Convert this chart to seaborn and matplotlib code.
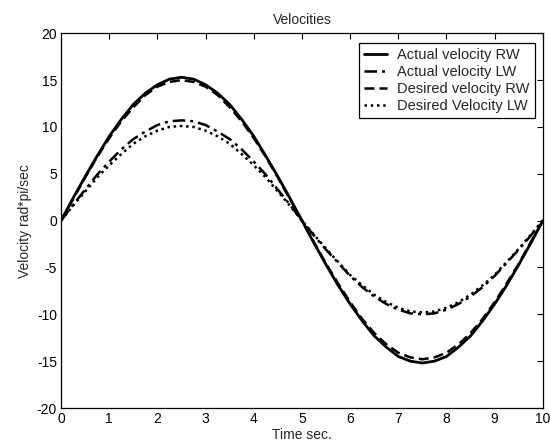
import numpy as np
import pandas as pd
import matplotlib
matplotlib.use("Agg")
import matplotlib.pyplot as plt
import seaborn as sns

time_sec = [i * 0.25 for i in range(41)]

actual_rw = [0, 2.4, 4.7, 6.9, 9.0, 10.8, 12.4, 13.6, 14.5, 15.1, 15.3,
             15.1, 14.5, 13.6, 12.4, 10.8, 9.0, 6.9, 4.7, 2.4, 0,
             -2.4, -4.7, -6.9, -8.9, -10.7, -12.3, -13.5, -14.5, -15.0, -15.2,
             -15.0, -14.5, -13.5, -12.3, -10.7, -8.9, -6.9, -4.7, -2.4, 0]
actual_lw = [0, 1.7, 3.3, 4.9, 6.3, 7.6, 8.7, 9.5, 10.2, 10.6, 10.7,
             10.6, 10.2, 9.5, 8.7, 7.6, 6.3, 4.9, 3.3, 1.7, 0,
             -1.6, -3.1, -4.5, -5.9, -7.1, -8.1, -8.9, -9.5, -9.9, -10.0,
             -9.9, -9.5, -8.9, -8.1, -7.1, -5.9, -4.5, -3.1, -1.6, 0]
desired_rw = [0, 2.3, 4.6, 6.8, 8.8, 10.6, 12.1, 13.4, 14.3, 14.8, 15.0,
              14.8, 14.3, 13.4, 12.1, 10.6, 8.8, 6.8, 4.6, 2.3, 0,
              -2.3, -4.6, -6.7, -8.7, -10.5, -12.0, -13.2, -14.1, -14.6, -14.8,
              -14.6, -14.1, -13.2, -12.0, -10.5, -8.7, -6.7, -4.6, -2.3, 0]
desired_lw = [0, 1.6, 3.1, 4.6, 5.9, 7.1, 8.2, 9.0, 9.6, 10.0, 10.1,
              10.0, 9.6, 9.0, 8.2, 7.1, 5.9, 4.6, 3.1, 1.6, 0,
              -1.5, -3.0, -4.4, -5.8, -6.9, -7.9, -8.7, -9.3, -9.7, -9.8,
              -9.7, -9.3, -8.7, -7.9, -6.9, -5.8, -4.4, -3.0, -1.5, 0]

series_names = ["Actual velocity RW", "Actual velocity LW",
                "Desired velocity RW", "Desired Velocity LW"]
x_ticks = list(range(0, 11))
y_ticks = list(range(-20, 21, 5))

sns.set_style("white")
plt.rcParams["font.family"] = ["Liberation Sans", "DejaVu Sans"]
plt.rcParams["axes.unicode_minus"] = False

fig = plt.figure(figsize=(5.5, 4.43), dpi=100)
ax = fig.add_axes([0.111, 0.079, 0.876, 0.846])

styles = [
    dict(linestyle="-", linewidth=2.0),
    dict(linestyle=(0, (5, 2, 1.2, 2)), linewidth=1.8),
    dict(linestyle=(0, (4, 2)), linewidth=1.8),
    dict(linestyle=(0, (1, 1.5)), linewidth=1.8),
]
for name, vals, st in zip(series_names,
                          [actual_rw, actual_lw, desired_rw, desired_lw],
                          styles):
    df = pd.DataFrame({"t": time_sec, "v": vals})
    sns.lineplot(data=df, x="t", y="v", ax=ax, color="black", label=name,
                 **st)

ax.set_xlim(0, 10)
ax.set_ylim(-20, 20)
ax.set_xticks(x_ticks)
ax.set_yticks(y_ticks)
ax.tick_params(direction="in", length=4, width=0.8, top=True, right=True,
               labelsize=10, colors="black", pad=3)
for s in ax.spines.values():
    s.set_color("black")
    s.set_linewidth(0.9)
ax.set_xlabel("Time sec.", fontsize=10, labelpad=1)
ax.set_ylabel("Velocity rad*pi/sec", fontsize=10, labelpad=3)
ax.set_title("Velocities", fontsize=10, pad=7)

leg = ax.legend(loc="upper right", bbox_to_anchor=(0.983, 0.975),
                fontsize=10.5, frameon=True, fancybox=False,
                edgecolor="black", framealpha=1, handlelength=1.58,
                borderaxespad=0.0, labelspacing=0.21, borderpad=0.35,
                handletextpad=0.7)
leg.get_frame().set_linewidth(0.9)

fig.savefig("out.png", dpi=100)
